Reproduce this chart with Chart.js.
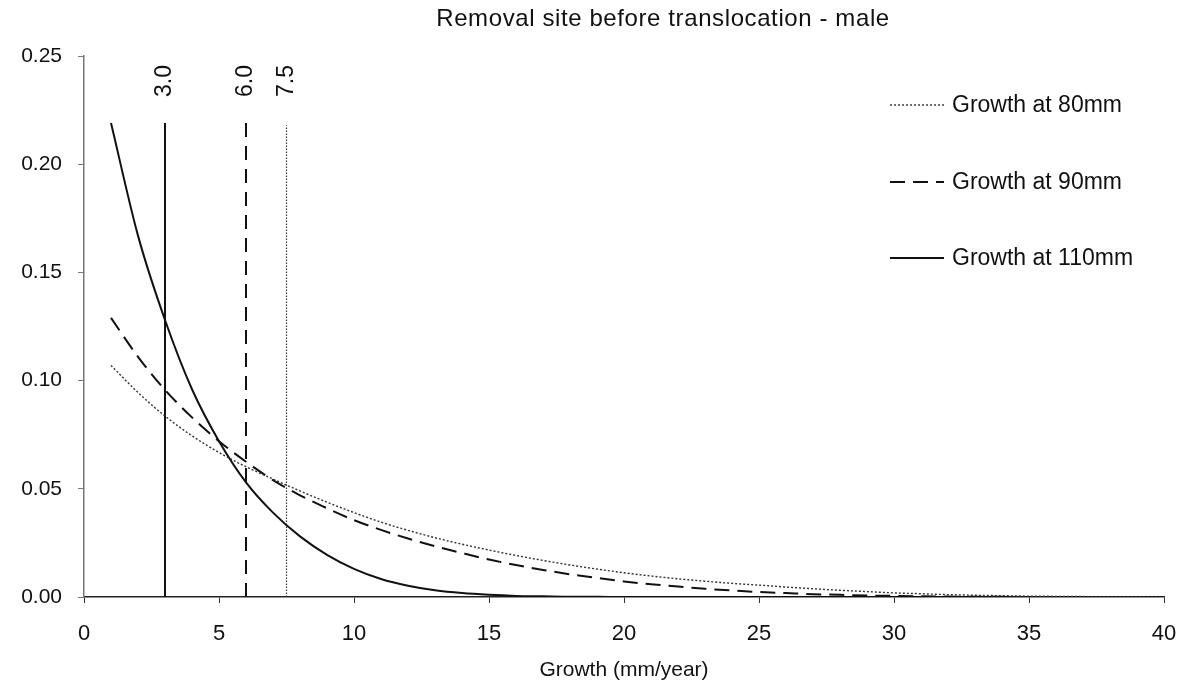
<!DOCTYPE html>
<html>
<head>
<meta charset="utf-8">
<title>Removal site before translocation - male</title>
<script src="https://cdn.jsdelivr.net/npm/chart.js@4.4.0/dist/chart.umd.min.js"></script>
<style>
  html, body { margin: 0; padding: 0; background: #fff; }
  #wrap { width: 1192px; height: 691px; }
</style>
</head>
<body>
<div id="wrap"><canvas id="growthChart" width="1192" height="691"></canvas></div>
<script>
// growth rate (mm/year)
const growth = [1, 2, 3, 4, 5, 6, 7, 8, 9, 10, 11, 12, 13, 14, 15, 16, 17, 18, 19, 20,
                21, 22, 23, 24, 25, 26, 27, 28, 29, 30, 31, 32, 33, 34, 35, 36, 37, 38, 39, 40];

// probability density at each size class
const g80 = [0.107, 0.0945, 0.0836, 0.0745, 0.0668, 0.0602, 0.0545, 0.049, 0.0438, 0.039,
             0.0346, 0.0308, 0.0274, 0.0244, 0.0217, 0.0192, 0.0169, 0.0148, 0.0129, 0.0112,
             0.0097, 0.0084, 0.0073, 0.0063, 0.0055, 0.0046, 0.0038, 0.0031, 0.0025, 0.0019,
             0.0015, 0.0011, 0.0008, 0.0006, 0.0004, 0.0003, 0.0002, 0.0001, 0.0001, 0];
const g90 = [0.129, 0.111, 0.0957, 0.083, 0.072, 0.0625, 0.054, 0.047, 0.041, 0.0355,
             0.031, 0.027, 0.0235, 0.0203, 0.0173, 0.0148, 0.0125, 0.0105, 0.0088, 0.0072,
             0.0059, 0.0048, 0.0038, 0.003, 0.0023, 0.0018, 0.0013, 0.001, 0.0007, 0.0005,
             0.0003, 0.0002, 0.0001, 0.0001, 0, 0, 0, 0, 0, 0];
const g110 = [0.219, 0.167, 0.128, 0.096, 0.072, 0.053, 0.039, 0.028, 0.0195, 0.013,
              0.0083, 0.0052, 0.0031, 0.0018, 0.001, 0.0005, 0.0003, 0.0001, 0.0001, 0,
              0, 0, 0, 0, 0, 0, 0, 0, 0, 0, 0, 0, 0, 0, 0, 0, 0, 0, 0, 0];

const seriesLabels = ['Growth at 80mm', 'Growth at 90mm', 'Growth at 110mm'];

// mean growth markers (same order as the series)
const markerX = [7.5, 6.0, 3.0];
const markerTop = [0.218, 0.22, 0.219];

const xTicks = [0, 5, 10, 15, 20, 25, 30, 35, 40];
const yTicks = [0, 0.05, 0.10, 0.15, 0.20, 0.25];

const titleText = 'Removal site before translocation - male';
const xTitle = 'Growth (mm/year)';

const FONT_FAMILY = '"Liberation Sans", Arial, sans-serif';
const INK = '#111';

// line styles: dotted / dashed / solid
const lineStyles = [
    { dash: [2, 2], width: 1.4, color: '#333' },
    { dash: [15, 8], width: 2, color: '#111' },
    { dash: [], width: 2, color: '#111' }
];
const markerStyles = [
    { dash: [1.5, 1.5], width: 1.2, color: '#333' },
    { dash: [14, 9], width: 2, color: '#111' },
    { dash: [], width: 2, color: '#111' }
];

const curves = [g80, g90, g110].map((vals, i) => ({
    label: seriesLabels[i],
    data: growth.map((x, j) => ({ x: x, y: vals[j] })),
    borderColor: lineStyles[i].color,
    borderWidth: lineStyles[i].width,
    borderDash: lineStyles[i].dash,
    pointRadius: 0,
    fill: false,
    cubicInterpolationMode: 'monotone'
}));

const markers = markerX.map((x, i) => ({
    label: 'marker ' + x.toFixed(1),
    data: [{ x: x, y: 0 }, { x: x, y: markerTop[i] }],
    borderColor: markerStyles[i].color,
    borderWidth: markerStyles[i].width,
    borderDash: markerStyles[i].dash,
    pointRadius: 0,
    fill: false
}));

// ========== 标题、标注与图例 ==========
const overlay = {
    id: 'overlay',
    afterDraw(chart) {
        const ctx = chart.ctx;
        const xs = chart.scales.x;
        const area = chart.chartArea;
        ctx.save();
        ctx.fillStyle = INK;

        // title
        ctx.font = '24px ' + FONT_FAMILY;
        ctx.letterSpacing = '0.6px';
        ctx.textAlign = 'center';
        ctx.textBaseline = 'middle';
        ctx.fillText(titleText, (area.left + area.right) / 2 + 39, 19);
        ctx.letterSpacing = '0px';

        // rotated value labels above the marker lines
        ctx.font = '23px ' + FONT_FAMILY;
        markerX.forEach(v => {
            ctx.save();
            ctx.translate(xs.getPixelForValue(v), 81);
            ctx.rotate(-Math.PI / 2);
            ctx.fillText(v.toFixed(1), 0, 0);
            ctx.restore();
        });

        // legend
        const legX = 890, legLen = 54, rowY = [105, 182, 258];
        ctx.textAlign = 'left';
        ctx.font = '23px ' + FONT_FAMILY;
        seriesLabels.forEach((lab, i) => {
            const st = lineStyles[i];
            ctx.beginPath();
            ctx.setLineDash(st.dash);
            ctx.lineWidth = st.width;
            ctx.strokeStyle = st.color;
            ctx.moveTo(legX, rowY[i]);
            ctx.lineTo(legX + legLen, rowY[i]);
            ctx.stroke();
            ctx.setLineDash([]);
            ctx.fillText(lab, 952, rowY[i] + 1);
        });
        ctx.restore();
    }
};

new Chart(document.getElementById('growthChart'), {
    type: 'line',
    data: { datasets: [...curves, ...markers] },
    options: {
        responsive: false,
        devicePixelRatio: 1,
        animation: false,
        layout: { padding: { top: 56, right: 28, left: 0, bottom: 0 } },
        plugins: {
            legend: { display: false },
            title: { display: false },
            tooltip: { enabled: false }
        },
        scales: {
            x: {
                type: 'linear',
                min: 0,
                max: 40,
                afterBuildTicks: s => { s.ticks = xTicks.map(v => ({ value: v })); },
                afterFit: s => {
                    s.height = 94;
                    s.paddingLeft = 0;
                    s.paddingRight = 0;
                },
                grid: { drawOnChartArea: false, drawTicks: true, tickLength: 6, color: '#333' },
                border: { color: '#222', width: 1.5 },
                ticks: {
                    color: INK,
                    padding: 18,
                    maxRotation: 0,
                    font: { family: FONT_FAMILY, size: 22 },
                    callback: v => String(v)
                },
                title: {
                    display: true,
                    text: xTitle,
                    color: INK,
                    font: { family: FONT_FAMILY, size: 21 },
                    padding: { top: 4, bottom: 8 }
                }
            },
            y: {
                min: 0,
                max: 0.25,
                afterBuildTicks: s => { s.ticks = yTicks.map(v => ({ value: v })); },
                afterFit: s => {
                    s.width = 84;
                    s.paddingTop = 0;
                    s.paddingBottom = 0;
                },
                grid: { drawOnChartArea: false, drawTicks: true, tickLength: 6, color: '#777' },
                border: { color: '#777', width: 1.5 },
                ticks: {
                    color: INK,
                    padding: 16,
                    font: { family: FONT_FAMILY, size: 21 },
                    callback: v => Number(v).toFixed(2)
                }
            }
        }
    },
    plugins: [overlay]
});
</script>
</body>
</html>
